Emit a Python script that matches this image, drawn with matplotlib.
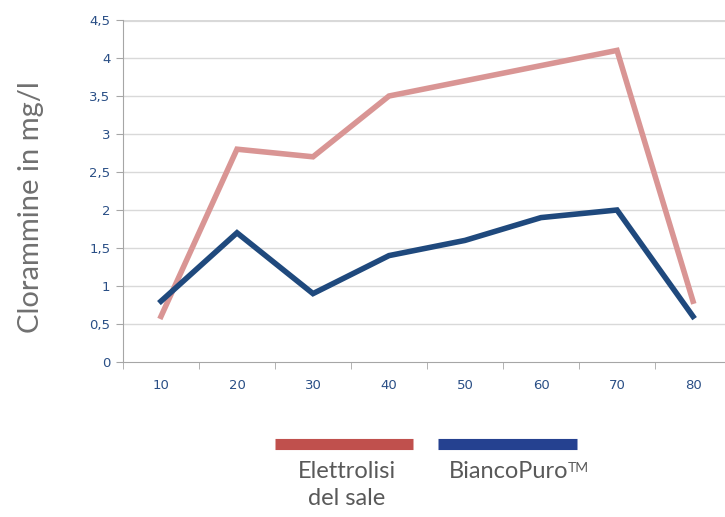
import matplotlib
matplotlib.use("Agg")
import matplotlib.pyplot as plt
from matplotlib.lines import Line2D

categories = ["10", "20", "30", "40", "50", "60", "70", "80"]
elettrolisi = [0.6, 2.8, 2.7, 3.5, 3.7, 3.9, 4.1, 0.8]
biancopuro = [0.8, 1.7, 0.9, 1.4, 1.6, 1.9, 2.0, 0.6]
yticks = [0, 0.5, 1, 1.5, 2, 2.5, 3, 3.5, 4, 4.5]
ytick_labels = ["0", "0,5", "1", "1,5", "2", "2,5", "3", "3,5", "4", "4,5"]

PINK = "#D99594"; NAVY = "#1F497D"; LEG_RED = "#C0504D"; LEG_BLUE = "#254190"
TICK = "#2A4F86"; GREY_TXT = "#595959"

plt.rcParams["font.family"] = ["DejaVu Sans"]
fig = plt.figure(figsize=(7.25, 5.17), dpi=100)
ax = fig.add_axes([123 / 725, 155 / 517, 608 / 725, 342 / 517])

x = list(range(len(categories)))
ax.plot(x, elettrolisi, color=PINK, lw=4, solid_joinstyle="miter", zorder=3, clip_on=False)
ax.plot(x, biancopuro, color=NAVY, lw=4, solid_joinstyle="miter", zorder=4, clip_on=False)

ax.set_xlim(-0.5, 7.5)
ax.set_ylim(0, 4.5)
ax.set_yticks(yticks)
ax.set_yticklabels(ytick_labels)
ax.set_xticks(x)
ax.set_xticklabels(categories)
ax.set_xticks([i - 0.5 for i in range(len(categories) + 1)], minor=True)
ax.tick_params(axis="x", which="major", length=0, pad=12, labelsize=9.5, colors=TICK)
ax.tick_params(axis="x", which="minor", length=5, color="#A6A6A6")
ax.tick_params(axis="y", length=5, color="#A6A6A6", labelsize=9.5, labelcolor=TICK, pad=4)

for yv in yticks[1:-1]:
    ax.axhline(yv, color="#D9D9D9", lw=1, zorder=1)
ax.axhline(4.5, color="#D9D9D9", lw=3, zorder=1)
for s in ["top", "right"]:
    ax.spines[s].set_visible(False)
ax.spines["left"].set_color("#A6A6A6")
ax.spines["bottom"].set_color("#A6A6A6")

# y-axis title, placed as figure text so it can be centred where the original sits
fig.text(31 / 725, 1 - 207 / 517, "Clorammine in mg/l", rotation=90, ha="center", va="center",
         fontsize=21, color="#707070", family="Lato")

# custom legend: coloured bars with labels underneath
fig.add_artist(Line2D([275 / 725, 413 / 725], [1 - 444 / 517] * 2, color=LEG_RED, lw=8,
                      solid_capstyle="butt"))
fig.add_artist(Line2D([438 / 725, 577 / 725], [1 - 444 / 517] * 2, color=LEG_BLUE, lw=8,
                      solid_capstyle="butt"))
fig.text(347 / 725, 1 - 461 / 517, "Elettrolisi\ndel sale", ha="center", va="top",
         fontsize=17, color=GREY_TXT, family="Lato", linespacing=1.35)
fig.text(449 / 725, 1 - 461 / 517, "BiancoPuro", ha="left", va="top",
         fontsize=17, color=GREY_TXT, family="Lato")
fig.text(568 / 725, 1 - 462 / 517, "TM", ha="left", va="top",
         fontsize=10, color=GREY_TXT, family="Lato")

fig.savefig("out.png", dpi=100)
